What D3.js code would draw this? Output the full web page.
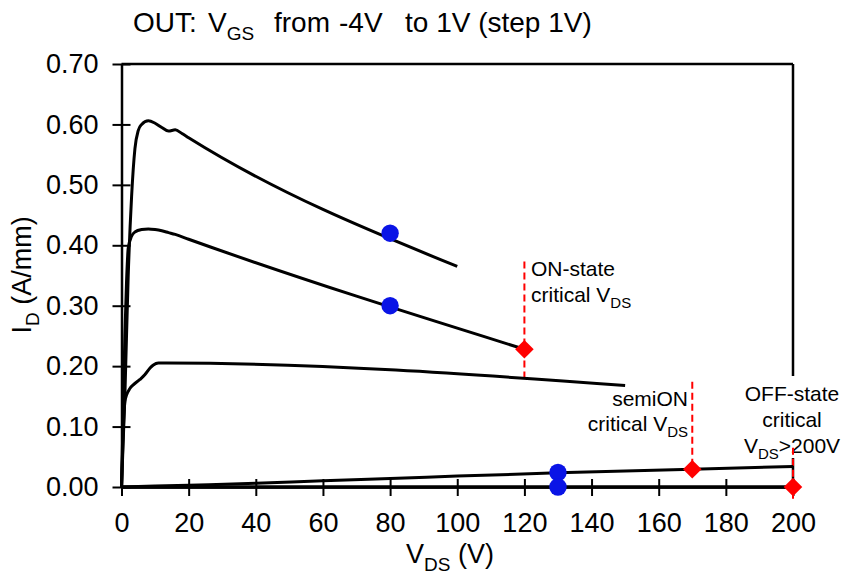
<!DOCTYPE html>
<html>
<head>
<meta charset="utf-8">
<script src="https://cdn.jsdelivr.net/npm/d3@7"></script>
<style>
  html, body { margin: 0; padding: 0; background: #fff; }
  svg { display: block; font-family: "Liberation Sans", Arial, sans-serif; }
  text { white-space: pre; }
</style>
</head>
<body>
<svg id="chart" width="843" height="577"></svg>
<script>
// Output characteristics: drain current vs drain voltage, VGS from -4 V to 1 V
const xTicks = [0, 20, 40, 60, 80, 100, 120, 140, 160, 180, 200];
const yTicks = [0, 0.1, 0.2, 0.3, 0.4, 0.5, 0.6, 0.7];

// VGS = 1 V
const vdsVgsP1 = [0, 1, 2, 3, 4, 5, 6, 8, 10, 12, 14, 16, 18, 20, 100];
const idVgsP1  = [0, 0.15, 0.35, 0.48, 0.56, 0.59, 0.60, 0.606, 0.602, 0.595, 0.589, 0.591, 0.585, 0.578, 0.365];
// VGS = 0 V
const vdsVgs0 = [0, 0.5, 1, 1.5, 2, 3, 4, 6, 8, 10, 12, 14, 16, 20, 120];
const idVgs0  = [0, 0.12, 0.25, 0.34, 0.395, 0.415, 0.422, 0.426, 0.427, 0.426, 0.424, 0.421, 0.418, 0.41, 0.228];
// VGS = -1 V
const vdsVgsM1 = [0, 0.5, 1, 1.5, 2.5, 3.5, 5.5, 7, 8.5, 9.5, 11, 13.4, 150];
const idVgsM1  = [0, 0.09, 0.141, 0.152, 0.163, 0.169, 0.178, 0.186, 0.197, 0.202, 0.205, 0.205, 0.168];
// VGS = -2 V
const vdsVgsM2 = [0, 20, 40, 60, 80, 100, 130, 170, 200];
const idVgsM2  = [0, 0.003, 0.006, 0.0105, 0.014, 0.018, 0.0235, 0.0295, 0.034];
// VGS = -3 V and -4 V (pinched off)
const vdsVgsM3 = [0, 200];
const idVgsM3  = [0, 0];
const vdsVgsM4 = [0, 200];
const idVgsM4  = [0, 0];

// Bias points (blue)
const biasVds = [80, 80, 130, 130];
const biasId  = [0.42, 0.30, 0.024, 0];

// Critical VDS points (red) and their dashed guides
const critVds    = [120, 170, 200];
const critId     = [0.228, 0.0295, 0];
const guideIdTop = [0.373, 0.174, 0.065];
const guideIdBot = [0.181, 0.0295, -0.022];

const svg = d3.select("#chart");
const W = 843, H = 577;
const margin = { left: 121.5, right: 50, top: 64, bottom: 90 };

const x = d3.scaleLinear().domain([0, 200]).range([margin.left, W - margin.right]);
const y = d3.scaleLinear().domain([0, 0.7]).range([H - margin.bottom, margin.top]);

const zip = (xs, ys) => xs.map((v, i) => [v, ys[i]]);
const curves = [
  zip(vdsVgsM4, idVgsM4),
  zip(vdsVgsM3, idVgsM3),
  zip(vdsVgsM2, idVgsM2),
  zip(vdsVgsM1, idVgsM1),
  zip(vdsVgs0, idVgs0),
  zip(vdsVgsP1, idVgsP1)
];

// helper: text made of plain and subscript pieces
function richText(parent, xPos, yPos, parts, size, subSize, anchor) {
  const t = parent.append("text")
    .attr("x", xPos).attr("y", yPos)
    .attr("font-size", size)
    .attr("text-anchor", anchor || "start")
    .attr("fill", "#000");
  let shifted = false;
  const shift = size * 0.28;
  parts.forEach(p => {
    const s = t.append("tspan").text(p.t);
    if (p.sub) {
      s.attr("font-size", subSize).attr("dy", shifted ? 0 : shift);
      shifted = true;
    } else {
      if (shifted) s.attr("dy", -shift);
      shifted = false;
    }
    if (p.x !== undefined) s.attr("x", p.x);
  });
  return t;
}

// frame: top and right edges
svg.append("line")
  .attr("x1", x(0)).attr("x2", x(200)).attr("y1", y(0.7)).attr("y2", y(0.7))
  .attr("stroke", "#000").attr("stroke-width", 2.5);
svg.append("line")
  .attr("x1", x(200)).attr("x2", x(200)).attr("y1", y(0.7)).attr("y2", y(0))
  .attr("stroke", "#000").attr("stroke-width", 2.5);

// axes
const xAxis = d3.axisBottom(x).tickValues(xTicks).tickFormat(d3.format("d"))
  .tickSizeInner(9).tickSizeOuter(0).tickPadding(17);
const yAxis = d3.axisLeft(y).tickValues(yTicks).tickFormat(d3.format(".2f"))
  .tickSizeInner(9).tickSizeOuter(0).tickPadding(14);

const gx = svg.append("g").attr("transform", `translate(0,${y(0)})`).call(xAxis);
const gy = svg.append("g").attr("transform", `translate(${x(0)},0)`).call(yAxis);

[gx, gy].forEach(g => {
  g.select(".domain").attr("stroke", "#000").attr("stroke-width", 2.5);
  g.selectAll(".tick line").attr("stroke", "#000").attr("stroke-width", 2);
  g.selectAll(".tick text").attr("font-size", 27).attr("fill", "#000")
    .attr("font-family", "Liberation Sans, Arial, sans-serif");
});
gx.selectAll(".tick line").attr("y1", -8).attr("y2", 9);
gy.selectAll(".tick line").attr("x1", 9).attr("x2", -9);

// OFF-state label sits on a white box over the right edge
svg.append("rect")
  .attr("x", 744).attr("y", 376).attr("width", 99).attr("height", 82)
  .attr("fill", "#fff");

// annotations
richText(svg, 531, 276, [{ t: "ON-state" }], 21, 15, "start");
richText(svg, 531, 302, [{ t: "critical V" }, { t: "DS", sub: true }], 21, 15, "start");
richText(svg, 688, 406, [{ t: "semiON" }], 21, 15, "end");
richText(svg, 688, 431, [{ t: "critical V" }, { t: "DS", sub: true }], 21, 15, "end");
richText(svg, 792, 401, [{ t: "OFF-state" }], 21, 15, "middle");
richText(svg, 792, 427, [{ t: "critical" }], 21, 15, "middle");
richText(svg, 792, 453, [{ t: "V" }, { t: "DS", sub: true }, { t: ">200V" }], 21, 15, "middle");

// dashed guides at critical VDS
svg.append("g").selectAll("line")
  .data(critVds.map((v, i) => ({ v, top: guideIdTop[i], bot: guideIdBot[i] })))
  .join("line")
  .attr("x1", d => x(d.v)).attr("x2", d => x(d.v))
  .attr("y1", d => y(d.top)).attr("y2", d => y(d.bot))
  .attr("stroke", "#ff0000").attr("stroke-width", 2)
  .attr("stroke-dasharray", "7,4");

// I-V curves
const line = d3.line().x(d => x(d[0])).y(d => y(d[1])).curve(d3.curveMonotoneX);
svg.append("g").selectAll("path")
  .data(curves)
  .join("path")
  .attr("d", line)
  .attr("fill", "none")
  .attr("stroke", "#000")
  .attr("stroke-width", 3)
  .attr("stroke-linejoin", "round");

// bias points
svg.append("g").selectAll("circle")
  .data(biasVds.map((v, i) => [v, biasId[i]]))
  .join("circle")
  .attr("cx", d => x(d[0])).attr("cy", d => y(d[1]))
  .attr("r", 8.7)
  .attr("fill", "#0a14e6");

// critical points
const diamond = d3.symbol().type(d3.symbolDiamond2).size(220);
svg.append("g").selectAll("path")
  .data(critVds.map((v, i) => [v, critId[i]]))
  .join("path")
  .attr("transform", d => `translate(${x(d[0])},${y(d[1])})`)
  .attr("d", diamond)
  .attr("fill", "#ff0000");

// title
richText(svg, 133, 32, [
  { t: "OUT:" },
  { t: "V", x: 208 },
  { t: "GS", sub: true },
  { t: "from", x: 274 },
  { t: "-4V", x: 339 },
  { t: "to 1V (step 1V)", x: 405 }
], 28, 19, "start");

// axis titles
richText(svg, 450, 563, [{ t: "V" }, { t: "DS", sub: true }, { t: " (V)" }], 27, 19, "middle");
const yl = richText(svg, 0, 0, [{ t: "I" }, { t: "D", sub: true }, { t: " (A/mm)" }], 27, 19, "middle");
yl.attr("transform", "translate(31,275) rotate(-90)");
</script>
</body>
</html>
